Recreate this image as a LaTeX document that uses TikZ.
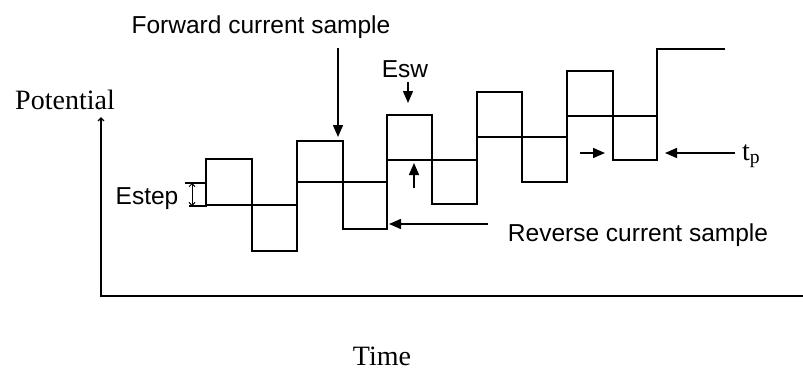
\documentclass[tikz,border=0pt]{standalone}
\usepackage{fontspec}
\setmainfont{Liberation Serif}
\setsansfont{Liberation Sans}
\usetikzlibrary{arrows.meta}
\tikzset{
  wave/.style={line width=1.5pt, line join=miter},
  axis/.style={line width=1.5pt},
  arrow/.style={-{Triangle[length=12pt,width=10pt]}, line width=1.5pt},
  axisarrow/.style={-{Straight Barb[length=3pt,width=6pt]}, line width=1.3pt},
  steparrow/.style={{Straight Barb[length=3pt,width=6pt]}-{Straight Barb[length=3pt,width=6pt]}, line width=1pt},
  tick/.style={line width=1.2pt},
  sftext/.style={font=\sffamily\fontsize{24.5}{29}\selectfont, inner sep=0pt},
  rmtext/.style={font=\fontsize{28}{33}\selectfont, inner sep=0pt}
}
\begin{document}
\begin{tikzpicture}[x=1pt,y=-1pt]
\useasboundingbox (0,0) rectangle (803,372);
\coordinate (origin) at (101,297);
\coordinate (ytop) at (101,117);
\coordinate (xend) at (803,296);
\draw[axis] (origin |- xend) -- (xend);
\draw[axisarrow] (origin) -- (ytop);
\node[rmtext, anchor=base] (potential) at (65,109) {Potential};
\node[rmtext, anchor=base] (time) at (382,365) {Time};
\draw[wave] (206,205) -- (206,159) -- (252,159) -- (252,251) -- (297,251) -- (297,141) -- (343,141) -- (343,229) -- (387,229) -- (387,115) -- (432,115) -- (432,204) -- (477,204) -- (477,92) -- (522,92) -- (522,182) -- (567,182) -- (567,71) -- (613,71) -- (613,160) -- (657,160) -- (657,49) -- (725,49);
\draw[wave] (206,205) -- (297,205);
\draw[wave] (297,182) -- (387,182);
\draw[wave] (387,160) -- (477,160);
\draw[wave] (477,137) -- (567,137);
\draw[wave] (567,116) -- (657,116);
\node[sftext, anchor=base] (fwd) at (261,33) {Forward current sample};
\coordinate (fwdtail) at (338,48);
\coordinate (fwdtip) at (338,137);
\draw[arrow] (fwdtail) -- (fwdtip);
\node[sftext, anchor=base] (esw) at (405,77) {Esw};
\coordinate (eswtail) at (408,82);
\coordinate (eswtip) at (408,103);
\draw[arrow] (eswtail) -- (eswtip);
\coordinate (eswuptail) at (414,188);
\coordinate (eswuptip) at (414,163);
\draw[arrow] (eswuptail) -- (eswuptip);
\node[sftext, anchor=base] (estep) at (147,204) {Estep};
\coordinate (estephi) at (192,183);
\coordinate (esteplo) at (192,206);
\draw[tick] (185,183) -- (206,183);
\draw[tick] (189,206) -- (207,206);
\draw[steparrow] (esteplo) -- (estephi);
\node[sftext, anchor=base] (rev) at (638,241) {Reverse current sample};
\coordinate (revtail) at (488,224);
\coordinate (revtip) at (389,224);
\draw[arrow] (revtail) -- (revtip);
\node[rmtext, anchor=base west] (tp) at (742,160) {t\textsubscript{p}};
\coordinate (tpltail) at (580,153);
\coordinate (tpltip) at (605,153);
\draw[arrow] (tpltail) -- (tpltip);
\coordinate (tprtail) at (735,153);
\coordinate (tprtip) at (665,153);
\draw[arrow] (tprtail) -- (tprtip);
\end{tikzpicture}
\end{document}
